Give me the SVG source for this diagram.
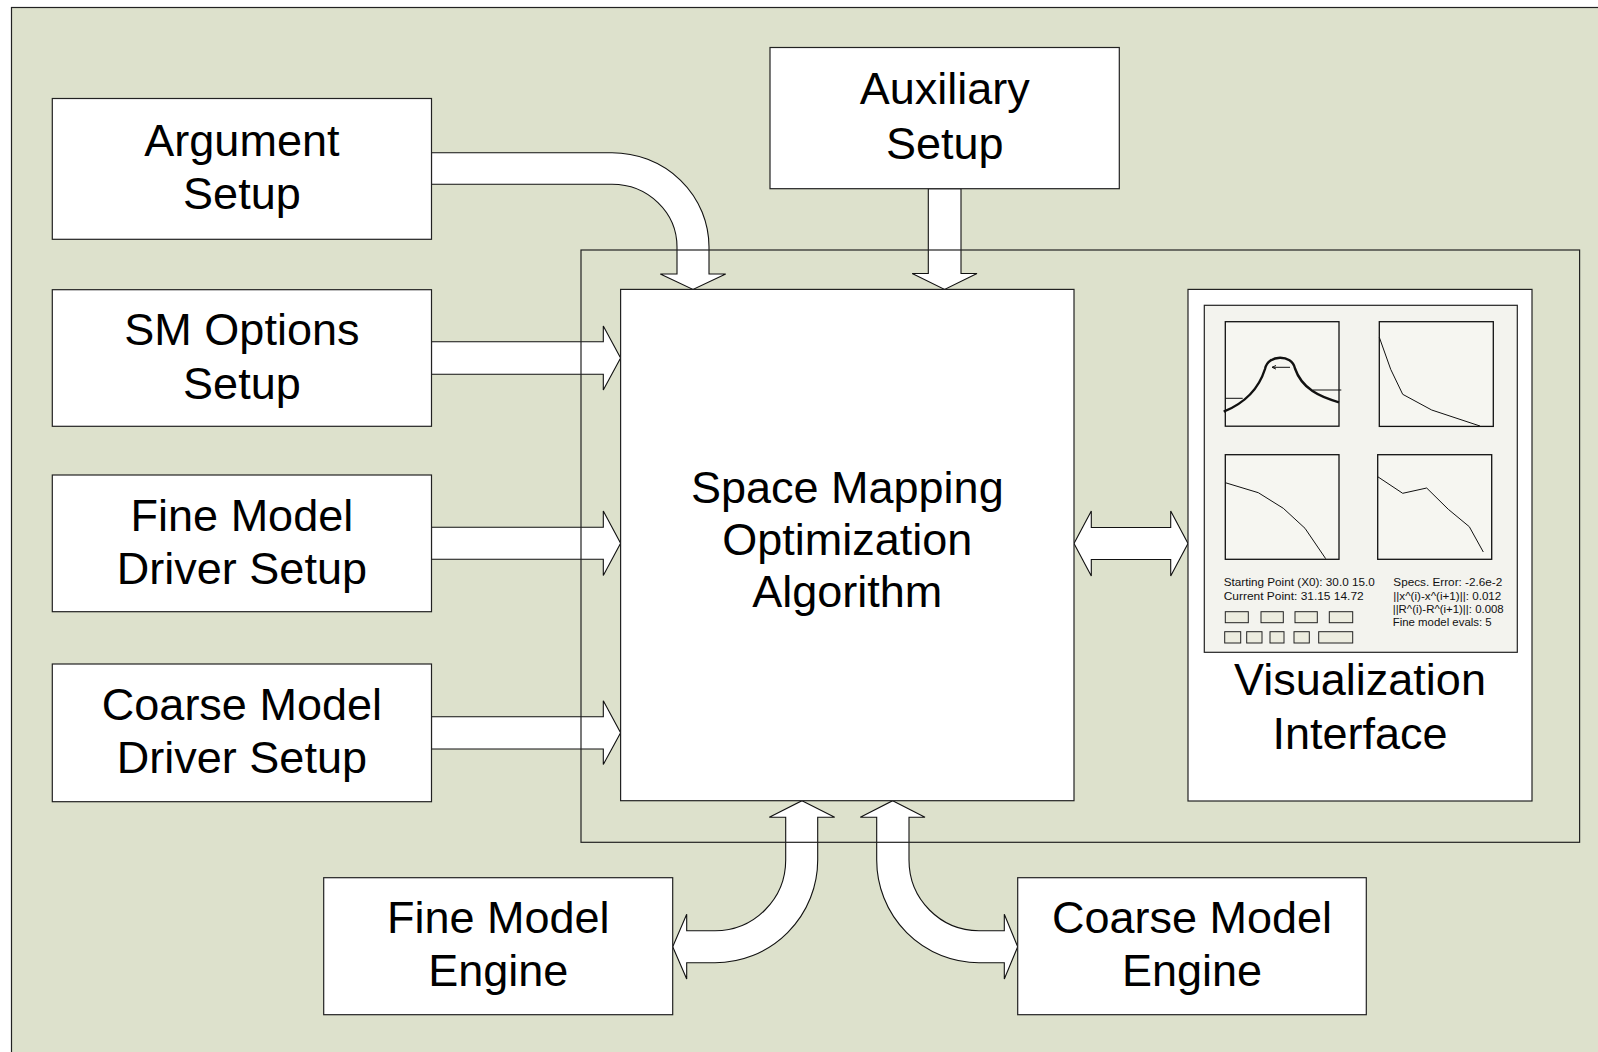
<svg xmlns="http://www.w3.org/2000/svg" width="1598" height="1052" viewBox="0 0 1598 1052">
<style>
.box{fill:#ffffff;stroke:#222;stroke-width:1.2}
.arrow{fill:#ffffff;stroke:#111;stroke-width:1.1;stroke-linejoin:miter}
.lbl{font-family:"Liberation Sans",Arial,sans-serif;font-size:45px;fill:#000;text-anchor:middle}
.small{font-family:"Liberation Sans",Arial,sans-serif;font-size:11.5px;fill:#111}
.chart{fill:#f6f6f1;stroke:#111;stroke-width:1.3}
.curve{fill:none;stroke:#111;stroke-width:1}
.btn{fill:#ececdf;stroke:#222;stroke-width:1}
</style>
<rect x="0" y="0" width="1598" height="1052" fill="#ffffff"/>
<rect x="11.5" y="7.5" width="1620" height="1080" fill="#dde1cc" stroke="#222" stroke-width="1.2"/>

<g id="connectors">
  <path class="arrow" d="M431.5 152.7 H612 A97 94.3 0 0 1 709 247 V274 H725.7 L693 289.4 L660.3 274 H677 V247 A65 62.7 0 0 0 612 184.3 H431.5 Z"/>
  <path class="arrow" d="M928.3 188.7 V273.5 H912.2 L944.6 289.4 L977 273.5 H961 V188.7 Z"/>
  <path class="arrow" d="M431.5 341.7 H603.3 V326 L620.6 358 L603.3 390 V374.3 H431.5 Z"/>
  <path class="arrow" d="M431.5 527.3 H603.3 V511 L620.6 543.3 L603.3 575.5 V559.3 H431.5 Z"/>
  <path class="arrow" d="M431.5 716.7 H603.3 V700.7 L620.6 732.8 L603.3 764.5 V749 H431.5 Z"/>
  <path class="arrow" d="M1074 543.5 L1091.3 511 V527.5 H1170.7 V511 L1188 543.5 L1170.7 576 V559.5 H1091.3 V576 Z"/>
  <path class="arrow" d="M802 800.7 L834.7 817.3 H817.7 V860 A102.7 102.7 0 0 1 715 962.7 H686.7 V979 L672.7 946.7 L686.7 914.3 V930.7 H715 A70.7 70.7 0 0 0 785.7 860 V817.3 H769.3 Z"/>
  <path class="arrow" d="M892.7 800.7 L925 817.3 H909 V860 A70 70.7 0 0 0 979 930.7 H1004.3 V914.3 L1017.7 946.7 L1004.3 979 V962.7 H979 A102.3 102.7 0 0 1 876.7 860 V817.3 H860.3 Z"/>
</g>

<rect id="container" x="581" y="250" width="998.6" height="592.3" fill="none" stroke="#222" stroke-width="1.2"/>

<g id="argument-setup">
  <rect class="box" x="52.3" y="98.5" width="379.2" height="140.8"/>
  <text class="lbl" x="241.9" y="156">Argument</text>
  <text class="lbl" x="241.9" y="209">Setup</text>
</g>
<g id="sm-options-setup">
  <rect class="box" x="52.3" y="289.7" width="379.2" height="136.6"/>
  <text class="lbl" x="241.9" y="345">SM Options</text>
  <text class="lbl" x="241.9" y="399">Setup</text>
</g>
<g id="fine-model-driver-setup">
  <rect class="box" x="52.3" y="475" width="379.2" height="136.7"/>
  <text class="lbl" x="241.9" y="530.5">Fine Model</text>
  <text class="lbl" x="241.9" y="584">Driver Setup</text>
</g>
<g id="coarse-model-driver-setup">
  <rect class="box" x="52.3" y="664" width="379.2" height="137.7"/>
  <text class="lbl" x="241.9" y="719.5">Coarse Model</text>
  <text class="lbl" x="241.9" y="773">Driver Setup</text>
</g>
<g id="auxiliary-setup">
  <rect class="box" x="770" y="47.5" width="349.3" height="141.2"/>
  <text class="lbl" x="944.7" y="104">Auxiliary</text>
  <text class="lbl" x="944.7" y="158.5">Setup</text>
</g>
<g id="space-mapping">
  <rect class="box" x="620.6" y="289.4" width="453.4" height="511.3"/>
  <text class="lbl" x="847.3" y="503.3">Space Mapping</text>
  <text class="lbl" x="847.3" y="555">Optimization</text>
  <text class="lbl" x="847.3" y="606.7">Algorithm</text>
</g>
<g id="visualization-interface">
  <rect class="box" x="1188" y="289.4" width="344" height="511.6"/>
  <rect x="1204.3" y="305.3" width="313" height="347" fill="#f3f3ee" stroke="#222" stroke-width="1.2"/>
  <rect class="chart" x="1225.3" y="321.7" width="113.7" height="104.5"/>
  <rect class="chart" x="1379.3" y="321.7" width="114" height="104.7"/>
  <rect class="chart" x="1225.3" y="454.7" width="113.7" height="104.6"/>
  <rect class="chart" x="1377.7" y="454.7" width="114" height="104.6"/>
  <path d="M1223.7 411.7 C1245 403 1259 388 1265 369 C1268 354 1292 354 1295 368.5 C1302 389 1320 397 1339 402.3" fill="none" stroke="#111" stroke-width="2.4"/>
  <path class="curve" d="M1225.3 398.3 H1242.7 M1312.7 390 H1341.3 M1272 367.3 H1290 M1272 367.3 L1276 365.5 M1272 367.3 L1276 369.1"/>
  <path class="curve" d="M1379.3 337.3 L1390.7 369.3 L1402.7 394.3 L1431.7 410 L1480 426"/>
  <path class="curve" d="M1225.3 482.7 L1258.3 492.7 L1283.3 508.3 L1305 528.3 L1325.7 558.7"/>
  <path class="curve" d="M1377.7 476.7 L1402.7 493.3 L1426.7 488 L1448.3 509.3 L1469.3 526.7 L1483.3 552"/>
  <text class="small" x="1223.7" y="586" textLength="151" lengthAdjust="spacingAndGlyphs">Starting Point (X0):  30.0 15.0</text>
  <text class="small" x="1223.7" y="599.7" textLength="140" lengthAdjust="spacingAndGlyphs">Current Point:  31.15  14.72</text>
  <text class="small" x="1393.3" y="586" textLength="109" lengthAdjust="spacingAndGlyphs">Specs. Error:  -2.6e-2</text>
  <text class="small" x="1393.3" y="599.7" textLength="108" lengthAdjust="spacingAndGlyphs">||x^(i)-x^(i+1)||:  0.012</text>
  <text class="small" x="1392.7" y="613" textLength="111" lengthAdjust="spacingAndGlyphs">||R^(i)-R^(i+1)||: 0.008</text>
  <text class="small" x="1392.7" y="626.3" textLength="99" lengthAdjust="spacingAndGlyphs">Fine model evals: 5</text>
  <rect class="btn" x="1225.3" y="611.7" width="23" height="11"/>
  <rect class="btn" x="1261" y="611.7" width="22.3" height="11"/>
  <rect class="btn" x="1295" y="611.7" width="22.3" height="11"/>
  <rect class="btn" x="1329.3" y="611.7" width="23.4" height="11"/>
  <rect class="btn" x="1224.7" y="631.7" width="16" height="11.3"/>
  <rect class="btn" x="1246.7" y="631.7" width="15.3" height="11.3"/>
  <rect class="btn" x="1270" y="631.7" width="14" height="11.3"/>
  <rect class="btn" x="1294" y="631.7" width="15.3" height="11.3"/>
  <rect class="btn" x="1318.7" y="631.7" width="34" height="11.3"/>
  <text class="lbl" x="1360" y="694.5">Visualization</text>
  <text class="lbl" x="1360" y="749">Interface</text>
</g>
<g id="fine-model-engine">
  <rect class="box" x="323.7" y="877.7" width="349" height="137"/>
  <text class="lbl" x="498.2" y="933.3">Fine Model</text>
  <text class="lbl" x="498.2" y="985.5">Engine</text>
</g>
<g id="coarse-model-engine">
  <rect class="box" x="1017.7" y="877.7" width="348.6" height="137"/>
  <text class="lbl" x="1192" y="933.3">Coarse Model</text>
  <text class="lbl" x="1192" y="985.5">Engine</text>
</g>
</svg>
